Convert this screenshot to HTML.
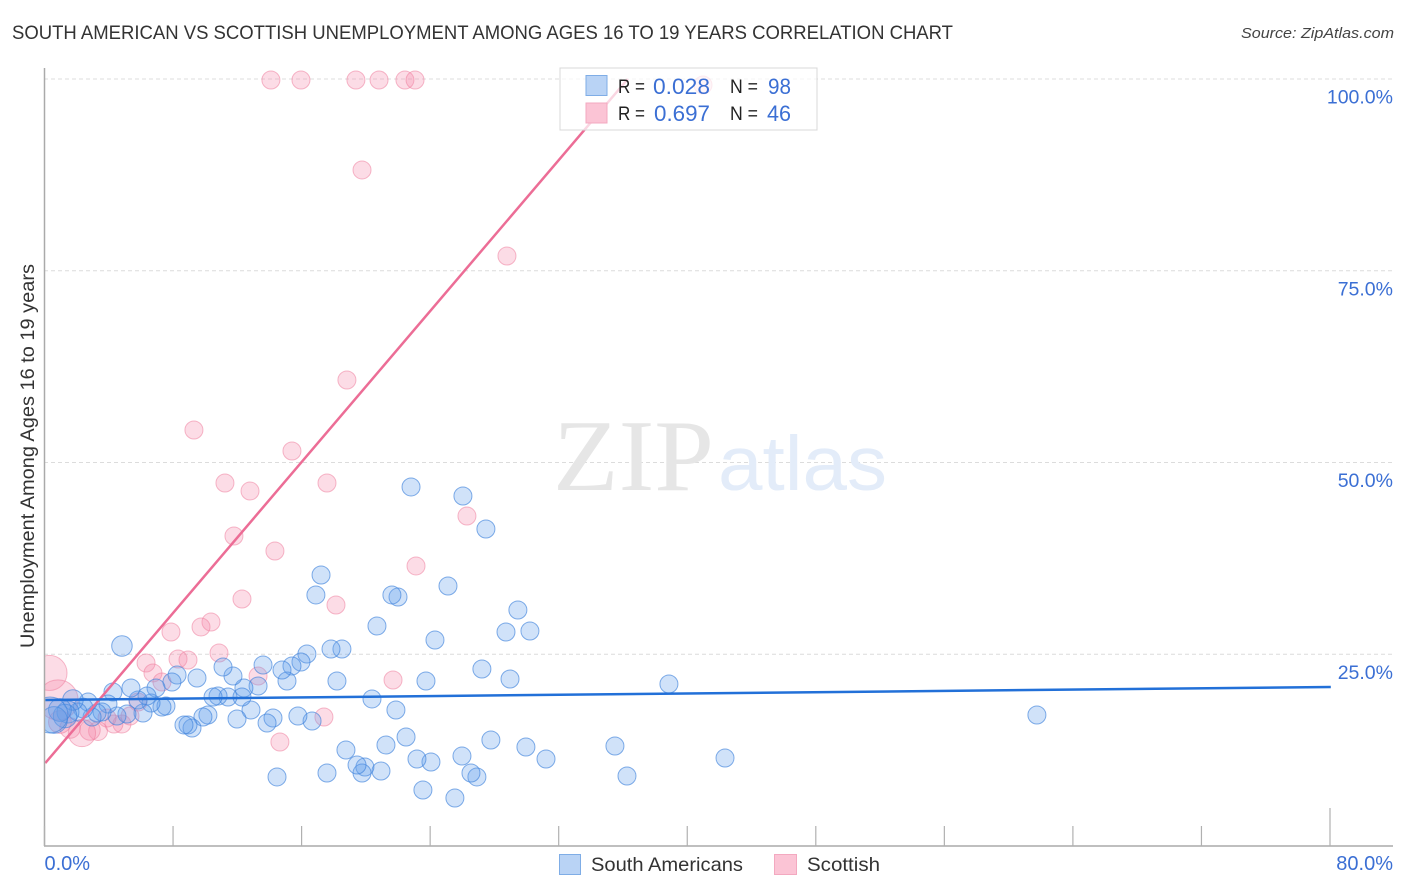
<!DOCTYPE html>
<html lang="en">
<head>
<meta charset="utf-8">
<title>South American vs Scottish Unemployment Correlation Chart</title>
<style>
html,body{margin:0;padding:0;background:#fff;width:1406px;height:892px;overflow:hidden}
svg{display:block;font-family:"Liberation Sans",sans-serif}
</style>
</head>
<body>
<svg id="chart" width="1406" height="892" viewBox="0 0 1406 892">
  <text x="12" y="39" font-size="19" fill="#333" textLength="941" lengthAdjust="spacingAndGlyphs">SOUTH AMERICAN VS SCOTTISH UNEMPLOYMENT AMONG AGES 16 TO 19 YEARS CORRELATION CHART</text>
  <text x="1241" y="38" font-size="15" font-style="italic" fill="#444" textLength="153" lengthAdjust="spacingAndGlyphs">Source: ZipAtlas.com</text>
  <g id="grid"></g>
  <g>
    <text x="553" y="490" font-family="'Liberation Serif',serif" font-size="102" fill="#e6e6e6" textLength="161" lengthAdjust="spacingAndGlyphs">ZIP</text>
    <text x="718" y="490" font-size="77" fill="#e3ecf9" textLength="169" lengthAdjust="spacingAndGlyphs">atlas</text>
  </g>
  <g id="points"></g>
  <rect x="0" y="60" width="44" height="790" fill="#fff"/>
  <g id="lines"></g>
  <g id="axes"></g>
  <g>
    <rect x="560" y="68" width="257" height="62" fill="#fff" fill-opacity="0.72" stroke="#d8d8d8"/>
    <rect x="586" y="75.5" width="21" height="20" fill="#b9d3f5" stroke="#7fade6"/>
    <rect x="586" y="103" width="21" height="20" fill="#fbc4d5" stroke="#f3a9c0"/>
    <text x="618" y="93" font-size="19.5" fill="#222" textLength="27" lengthAdjust="spacingAndGlyphs">R =</text>
    <text x="653" y="94" font-size="22" fill="#3b6fd4" textLength="57" lengthAdjust="spacingAndGlyphs">0.028</text>
    <text x="730" y="93" font-size="19.5" fill="#222" textLength="28" lengthAdjust="spacingAndGlyphs">N =</text>
    <text x="768" y="94" font-size="22" fill="#3b6fd4" textLength="23" lengthAdjust="spacingAndGlyphs">98</text>
    <text x="618" y="120" font-size="19.5" fill="#222" textLength="27" lengthAdjust="spacingAndGlyphs">R =</text>
    <text x="654" y="121" font-size="22" fill="#3b6fd4" textLength="56" lengthAdjust="spacingAndGlyphs">0.697</text>
    <text x="730" y="120" font-size="19.5" fill="#222" textLength="28" lengthAdjust="spacingAndGlyphs">N =</text>
    <text x="767" y="121" font-size="22" fill="#3b6fd4" textLength="24" lengthAdjust="spacingAndGlyphs">46</text>
  </g>
  <text transform="translate(34,648) rotate(-90)" font-size="19" fill="#333" textLength="384" lengthAdjust="spacingAndGlyphs">Unemployment Among Ages 16 to 19 years</text>
  <g>
    <rect x="559.5" y="854.5" width="21" height="20" fill="#b9d3f5" stroke="#7fade6"/>
    <text x="591" y="871" font-size="19.5" fill="#333" textLength="152" lengthAdjust="spacingAndGlyphs">South Americans</text>
    <rect x="774.5" y="854.5" width="22" height="20" fill="#fbc4d5" stroke="#f3a9c0"/>
    <text x="807" y="871" font-size="19.5" fill="#333" textLength="73" lengthAdjust="spacingAndGlyphs">Scottish</text>
  </g>
</svg>
<script>
const blueX = [61.76,42.35,38.86,36.25,35.50,31.21,29.96,30.21,29.46,28.72,28.97,27.78,27.47,27.22,26.91,26.54,26.04,25.98,25.54,25.11,24.30,24.05,23.74,23.55,23.18,22.81,22.50,22.00,21.62,21.87,21.25,20.94,20.69,20.38,19.94,19.76,19.45,18.76,18.51,18.20,17.83,17.58,17.21,16.89,16.65,16.33,15.96,15.77,15.40,15.09,14.78,14.47,14.22,13.85,13.60,13.29,12.85,12.41,12.29,11.98,11.73,11.42,11.11,10.80,10.49,10.17,9.86,9.49,9.18,8.93,8.68,8.25,7.93,7.56,7.31,6.94,6.63,6.38,6.13,5.82,5.38,5.13,4.82,4.51,4.26,3.95,3.58,3.27,2.96,2.71,2.40,2.08,1.77,1.46,1.28,0.96,0.59,0.34];
const blueY = [17.08,11.47,21.12,9.13,13.04,11.34,12.91,28.03,30.77,27.90,21.77,13.82,41.33,23.08,9.00,9.52,45.63,11.73,6.26,33.90,26.86,10.95,21.51,7.30,11.34,46.81,14.21,32.46,32.73,17.73,13.17,9.78,28.68,19.17,10.30,9.52,10.56,12.52,25.68,21.51,25.68,9.52,35.33,32.73,16.30,25.03,23.99,16.95,23.47,21.51,22.95,9.00,16.69,16.04,23.60,20.86,17.73,20.60,19.43,16.56,22.16,19.43,23.34,19.56,19.43,17.08,16.82,21.90,15.38,15.78,15.78,22.29,21.38,18.25,18.12,20.60,18.64,19.56,17.34,19.04,20.60,17.21,26.08,16.95,20.08,18.51,17.47,17.34,16.82,18.77,17.99,17.47,19.04,17.47,16.95,17.73,16.43,17.08];
const blueWeight = [1,1,1,1,1,1,1,1,1,1,1,1,1,1,1,1,1,1,1,1,1,1,1,1,1,1,1,1,1,1,1,1,1,1,1,1,1,1,1,1,1,1,1,1,1,1,1,1,1,1,1,1,1,1,1,1,1,1,1,1,1,1,1,1,1,1,1,1,1,1,1,1,1,1,1,1,1,1,1,1,1,1,1.3,1,1,1,1,1,1,1,1.2,1,1.3,1.5,1.7,1.6,2.2,4];
const pinkX = [14.09,15.96,19.38,20.82,22.43,23.06,40.98,19.76,28.78,18.82,9.30,15.40,11.23,12.79,17.58,26.29,11.79,14.34,23.12,12.29,18.14,10.36,9.74,7.87,6.32,8.31,8.93,10.86,6.75,7.31,13.29,21.69,17.39,14.65,5.82,4.82,4.32,3.89,3.33,2.83,2.33,1.59,0.96,0.31,0.84,5.32];
const pinkY = [99.87,99.87,99.87,99.87,99.87,99.87,99.22,88.14,76.92,60.76,54.24,51.50,47.33,46.28,47.33,43.02,40.42,38.46,36.51,32.20,31.42,29.20,28.55,27.90,23.86,24.38,24.25,25.16,22.56,21.38,22.16,21.64,16.82,13.56,18.77,15.91,15.91,16.69,14.99,15.12,14.73,15.38,16.17,22.56,19.04,16.95];
const pinkWeight = [1,1,1,1,1,1,1,1,1,1,1,1,1,1,1,1,1,1,1,1,1,1,1,1,1,1,1,1,1,1,1,1,1,1,1,1,1,1,1.1,1.3,2.3,1.3,1.6,3.8,5,1];
const blueTrendX = [0.05,80.05];
const blueTrendY = [19.04,20.73];
const pinkTrendX = [0.05,36.3];
const pinkTrendY = [10.82,100];
const xTickValues = [0,8,16,24,32,40,48,56,64,72,80];
const yGridValues = [100,75,50,25];
const yTickLabels = ["100.0%","75.0%","50.0%","25.0%"];
const xEndValues = [0,80];
const xEndLabels = ["0.0%","80.0%"];

const NS = 'http://www.w3.org/2000/svg';
function sx(v){return 44.5 + v * 1285.5 / 80;}
function sy(v){return 846 - v * 7.67;}
function make(tag, attrs, parent){
  const el = document.createElementNS(NS, tag);
  for (const k in attrs) el.setAttribute(k, attrs[k]);
  parent.appendChild(el);
  return el;
}
const grid = document.getElementById('grid');
const axes = document.getElementById('axes');
const points = document.getElementById('points');
const lines = document.getElementById('lines');

yGridValues.forEach(function(v, i){
  const g = make('line', {x1:44, x2:1393, y1:sy(v), y2:sy(v), stroke:'#dcdcdc', 'stroke-width':1, 'stroke-dasharray':'4 3'}, grid);
  
  
  const t = make('text', {x:1393, y:sy(v)+24.5, 'text-anchor':'end', 'font-size':19.5, fill:'#3b6fd4'}, axes);
  t.textContent = yTickLabels[i];
  
  
});

const yAxis = make('line', {x1:44.5, x2:44.5, y1:68, y2:846, stroke:'#aaa', 'stroke-width':1.5}, axes);


const xAxis = make('line', {x1:44, x2:1393, y1:846, y2:846, stroke:'#aaa', 'stroke-width':1.5}, axes);



xTickValues.forEach(function(v, i){
  const last = i === xTickValues.length - 1;
  const tick = make('line', {x1:sx(v), x2:sx(v), y1:last ? 808 : 826, y2:846, stroke:'#b0b0b0', 'stroke-width':1.2}, axes);
  
  
});
xEndValues.forEach(function(v, i){
  const t = make('text', {x:i === 0 ? sx(v) : 1393, y:870, 'text-anchor':i === 0 ? 'start' : 'end', 'font-size':20, fill:'#3b6fd4'}, axes);
  t.textContent = xEndLabels[i];
  
  
});

pinkX.forEach(function(v, i){
  const c = make('circle', {cx:sx(v), cy:sy(pinkY[i]), r:9 * Math.sqrt(pinkWeight[i]), fill:'#f58cab', 'fill-opacity':0.3, stroke:'#ef7f9f', 'stroke-opacity':0.55, 'stroke-width':1}, points);
  
  
});
blueX.forEach(function(v, i){
  const c = make('circle', {cx:sx(v), cy:sy(blueY[i]), r:9 * Math.sqrt(blueWeight[i]), fill:'#62a0ea', 'fill-opacity':0.3, stroke:'#3f83dc', 'stroke-opacity':0.65, 'stroke-width':1}, points);
  
  
});

const pinkLine = make('line', {x1:sx(pinkTrendX[0]), y1:sy(pinkTrendY[0]), x2:sx(pinkTrendX[1]), y2:sy(pinkTrendY[1]), stroke:'#ec6d96', 'stroke-width':2.5}, lines);


const blueLine = make('line', {x1:sx(blueTrendX[0]), y1:sy(blueTrendY[0]), x2:sx(blueTrendX[1]), y2:sy(blueTrendY[1]), stroke:'#2270d8', 'stroke-width':2.5}, lines);


</script>
</body>
</html>
